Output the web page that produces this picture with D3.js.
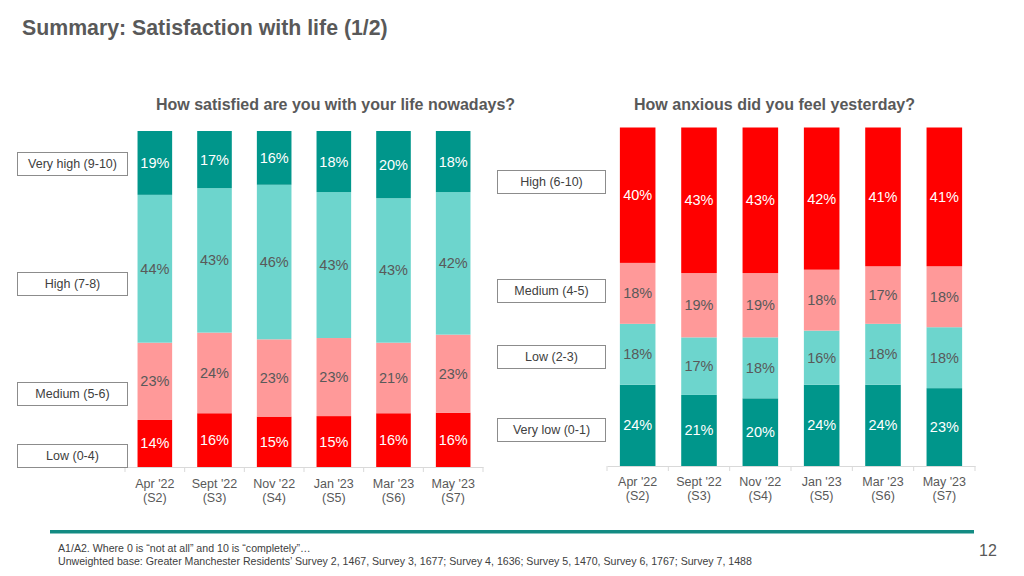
<!DOCTYPE html>
<html><head><meta charset="utf-8">
<script src="https://cdn.jsdelivr.net/npm/d3@7"></script>
<style>
body{margin:0;background:#fff;}
svg{display:block;font-family:"Liberation Sans",Arial,Helvetica,sans-serif;}
</style></head>
<body><svg id="c" width="1024" height="576"></svg>
<script>
// ---------- data ----------
const categories = ["Apr '22|(S2)","Sept '22|(S3)","Nov '22|(S4)","Jan '23|(S5)","Mar '23|(S6)","May '23|(S7)"];

// Satisfaction with life (bottom -> top)
const lifeSeries = ["Low (0-4)","Medium (5-6)","High (7-8)","Very high (9-10)"];
const lifeLow      = [14,16,15,15,16,16];
const lifeMedium   = [23,24,23,23,21,23];
const lifeHigh     = [44,43,46,43,43,42];
const lifeVeryHigh = [19,17,16,18,20,18];

// Anxiety yesterday (bottom -> top)
const anxSeries = ["Very low (0-1)","Low (2-3)","Medium (4-5)","High (6-10)"];
const anxVeryLow = [24,21,20,24,24,23];
const anxLow     = [18,17,18,16,18,18];
const anxMedium  = [18,19,19,18,17,18];
const anxHigh    = [40,43,43,42,41,41];

const titleText = "Summary: Satisfaction with life (1/2)";
const leftTitle = "How satisfied are you with your life nowadays?";
const rightTitle = "How anxious did you feel yesterday?";
const footer1 = "A1/A2. Where 0 is \u201cnot at all\u201d and 10 is \u201ccompletely\u201d\u2026";
const footer2 = "Unweighted base: Greater Manchester Residents\u2019 Survey 2, 1467, Survey 3, 1677; Survey 4, 1636; Survey 5, 1470, Survey 6, 1767; Survey 7, 1488";
const pageNo = "12";

// ---------- styles ----------
const DARK_TEAL = "#00968b", LIGHT_TEAL = "#6dd5cd", PINK = "#ff9999", RED = "#ff0000";
const GREY_TXT = "#595959";

const svg = d3.select("#c");

svg.append("text").attr("x",22).attr("y",34.5)
  .attr("font-size",21.3).attr("font-weight","bold").attr("fill",GREY_TXT).text(titleText);

function drawChart(cfg){
  const rows = categories.map((c,i)=>{
    const r = {cat:c};
    cfg.series.forEach((s,k)=> r[s] = cfg.values[k][i]);
    return r;
  });
  const stack = d3.stack().keys(cfg.series).offset(d3.stackOffsetExpand)(rows);
  const x = d3.scaleBand().domain(categories).range([cfg.x0,cfg.x1]).paddingInner(0.42).paddingOuter(0.21);
  const y = d3.scaleLinear().domain([0,1]).range([cfg.y1,cfg.y0]);
  const g = svg.append("g");

  // axis
  const ax = g.append("g").attr("transform",`translate(0,${cfg.y1})`)
    .call(d3.axisBottom(x).tickSize(0).tickFormat(""));
  ax.select(".domain").attr("stroke","#d9d9d9");
  const step = x.step();
  d3.range(categories.length+1).forEach(i=>{
    const xx = cfg.x0 + i*step;
    ax.append("line").attr("x1",xx).attr("x2",xx).attr("y1",0).attr("y2",5).attr("stroke","#d9d9d9");
  });
  const labG = g.append("g");
  categories.forEach(c=>{
    const parts = c.split("|");
    const cx = x(c)+x.bandwidth()/2;
    const t = labG.append("text").attr("text-anchor","middle").attr("fill",GREY_TXT).attr("font-size",12.5);
    t.append("tspan").attr("x",cx).attr("y",cfg.labY).text(parts[0]);
    t.append("tspan").attr("x",cx).attr("y",cfg.labY+14.5).text(parts[1]);
  });

  stack.forEach((layer,k)=>{
    const lg = g.append("g");
    lg.selectAll("rect").data(layer).join("rect")
      .attr("x",d=>x(d.data.cat)).attr("width",x.bandwidth())
      .attr("y",d=>y(d[1])).attr("height",d=>y(d[0])-y(d[1]))
      .attr("fill",cfg.colors[k]);
    lg.selectAll("text").data(layer).join("text")
      .attr("x",d=>x(d.data.cat)+x.bandwidth()/2)
      .attr("y",d=>(y(d[0])+y(d[1]))/2+5)
      .attr("text-anchor","middle").attr("font-size",14.5)
      .attr("fill",cfg.textColors[k])
      .text(d=>d.data[layer.key]+"%");
  });

  // legend boxes
  cfg.series.forEach((s,k)=>{
    const b = cfg.boxes[k];
    g.append("rect").attr("x",cfg.bx0+0.5).attr("y",b+0.5).attr("width",cfg.bw).attr("height",23)
      .attr("fill","#fff").attr("stroke","#8c8c8c").attr("stroke-width",1);
    g.append("text").attr("x",cfg.bx0+0.5+cfg.bw/2).attr("y",b+16).attr("text-anchor","middle")
      .attr("font-size",12.5).attr("fill","#404040").text(s);
  });

  svg.append("text").attr("x",cfg.tx).attr("y",110).attr("text-anchor","middle")
    .attr("font-size",16).attr("font-weight","bold").attr("fill",GREY_TXT).text(cfg.title);
}

drawChart({
  series: lifeSeries,
  values: [lifeLow,lifeMedium,lifeHigh,lifeVeryHigh],
  colors: [RED,PINK,LIGHT_TEAL,DARK_TEAL],
  textColors: ["#fff",GREY_TXT,GREY_TXT,"#fff"],
  x0:125, x1:483, y0:131, y1:467, labY:487.5,
  bx0:17, bw:110, boxes:[444,382,272,152],
  tx:335.5, title:leftTitle
});
drawChart({
  series: anxSeries,
  values: [anxVeryLow,anxLow,anxMedium,anxHigh],
  colors: [DARK_TEAL,LIGHT_TEAL,PINK,RED],
  textColors: ["#fff",GREY_TXT,GREY_TXT,"#fff"],
  x0:607, x1:975, y0:127.5, y1:466, labY:485.5,
  bx0:497, bw:108, boxes:[418,345,279,170],
  tx:774.5, title:rightTitle
});

// footer
svg.append("rect").attr("x",50).attr("y",530).attr("width",924).attr("height",3.5).attr("fill","#138b83");
svg.append("text").attr("x",58).attr("y",551.5).attr("font-size",10.6).attr("fill","#404040").text(footer1);
svg.append("text").attr("x",58).attr("y",564.5).attr("font-size",10.6).attr("fill","#404040").text(footer2);
svg.append("text").attr("x",979).attr("y",556).attr("font-size",16).attr("fill",GREY_TXT).text(pageNo);
</script></body></html>
